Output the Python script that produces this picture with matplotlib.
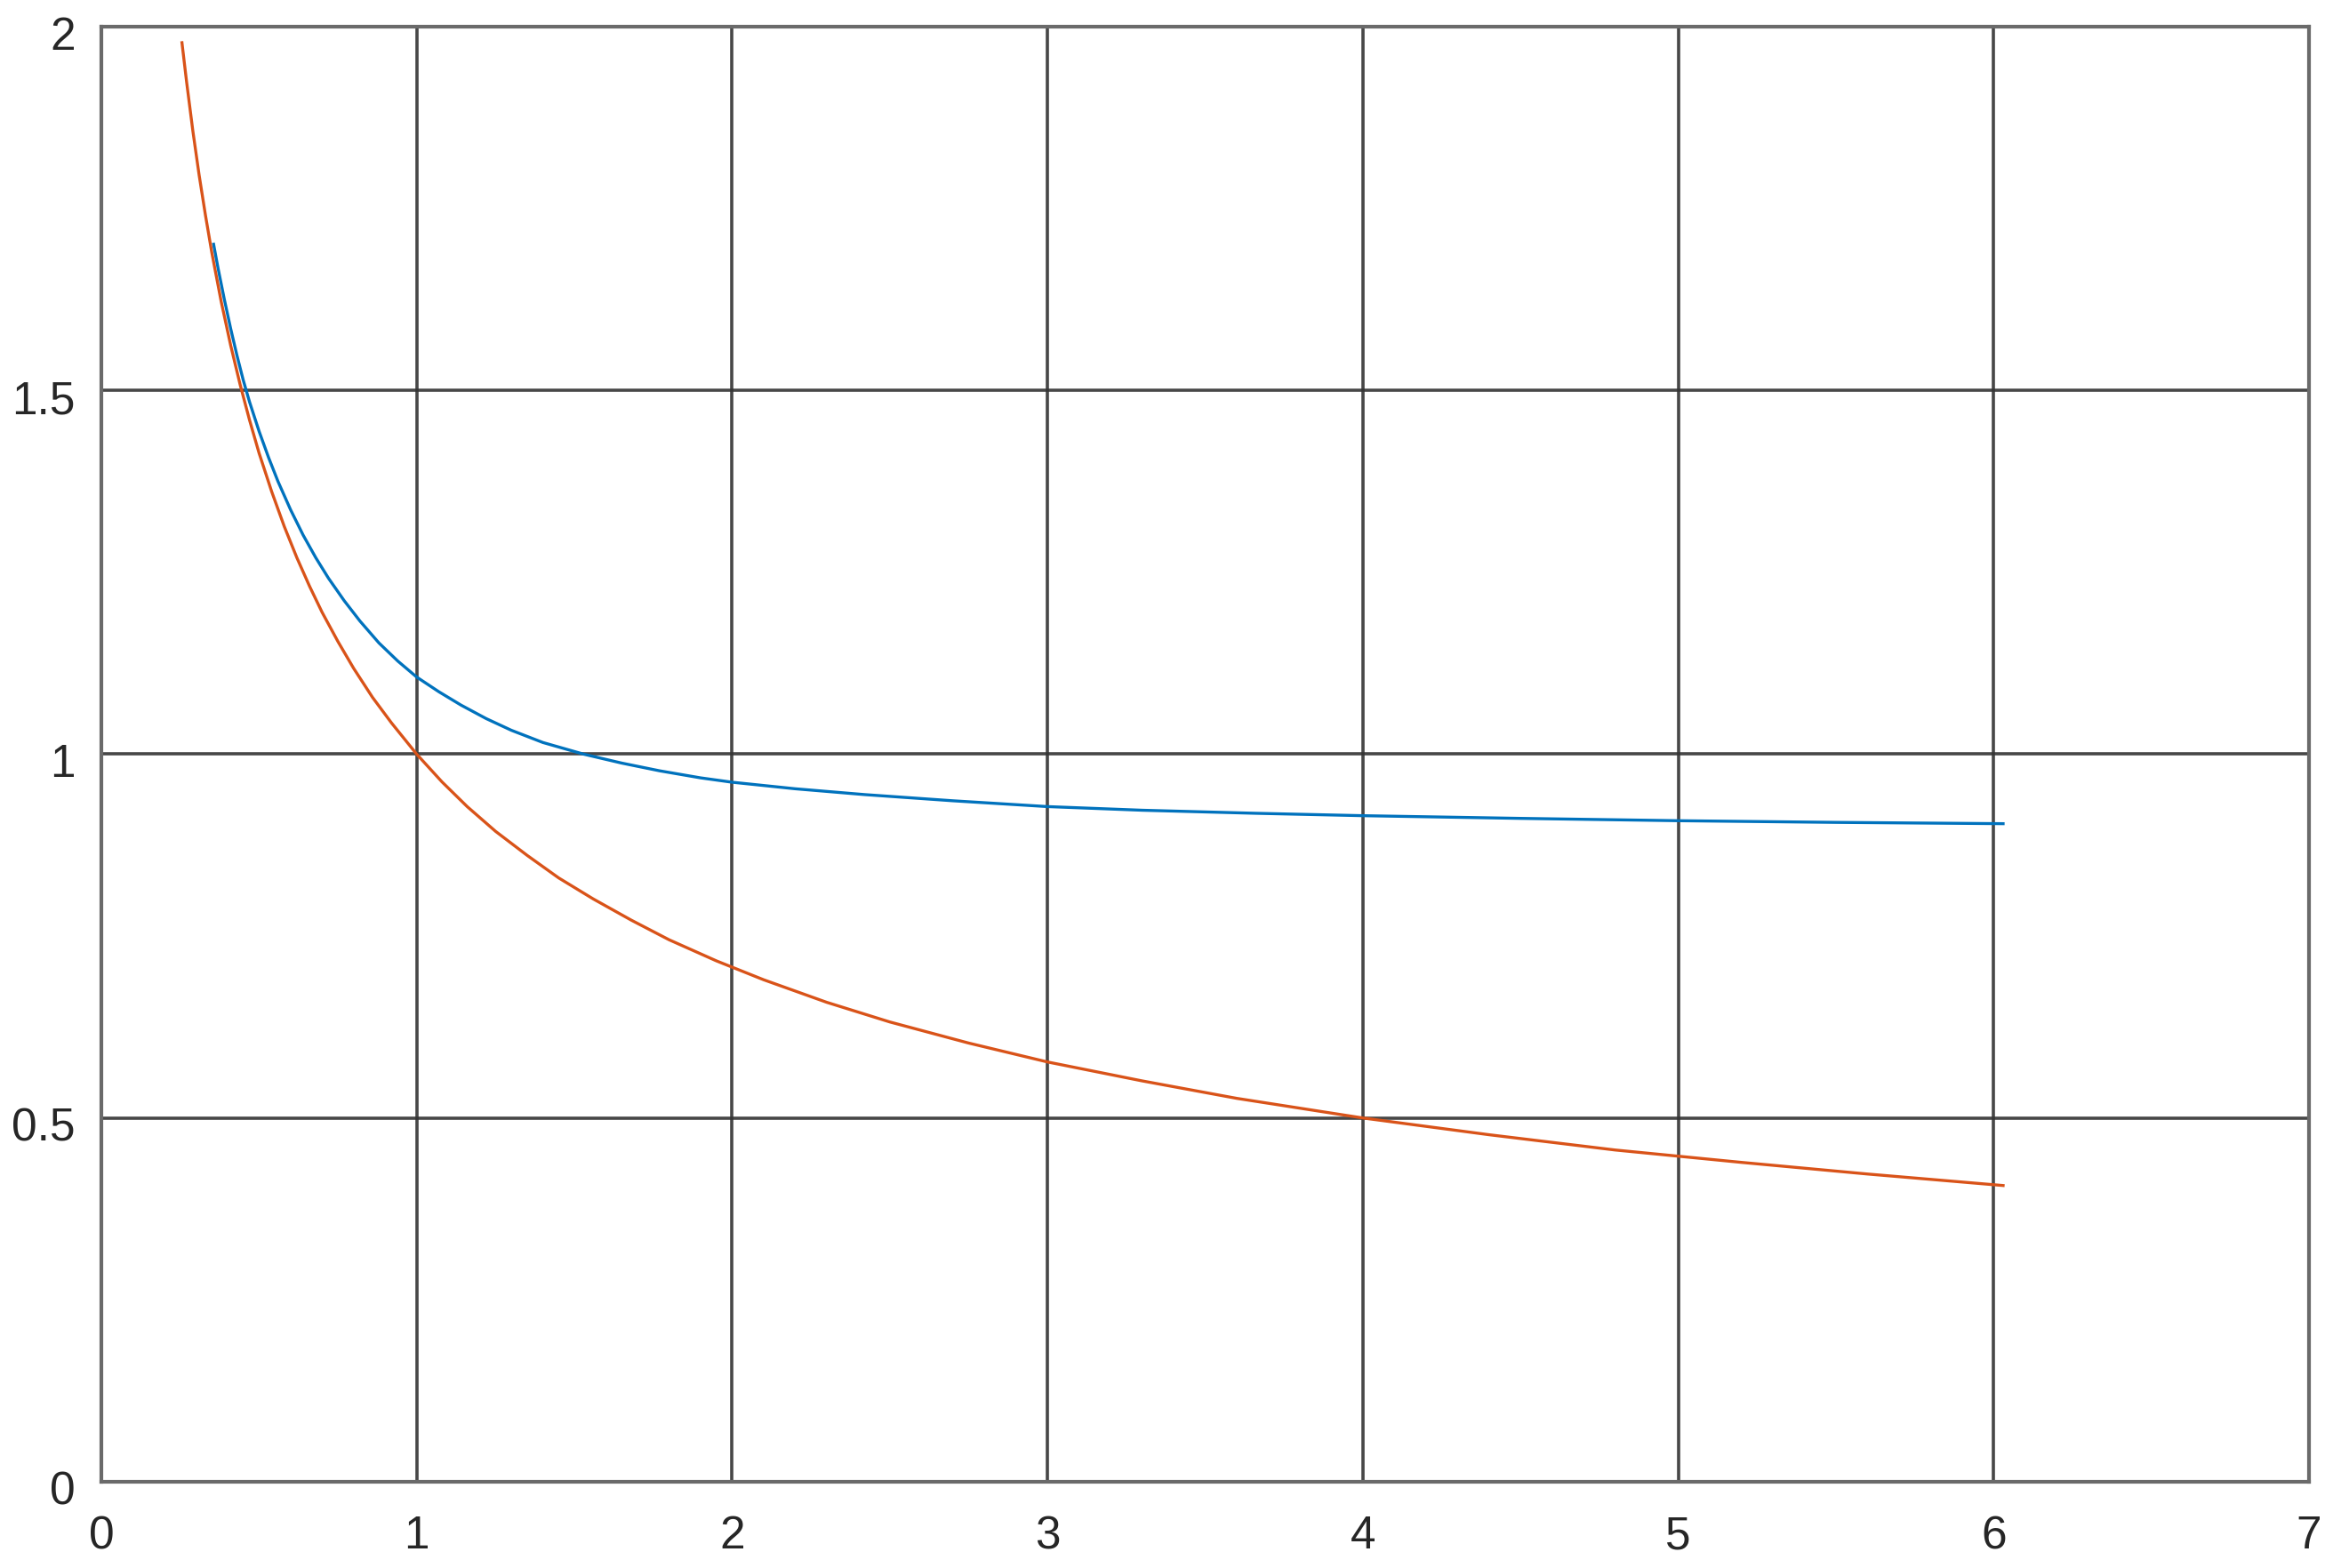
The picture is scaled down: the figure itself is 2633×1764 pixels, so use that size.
import matplotlib
matplotlib.use("Agg")
import matplotlib.pyplot as plt
from matplotlib.transforms import ScaledTranslation

# Values
orange_x = [0.255, 0.27, 0.29, 0.31, 0.33, 0.35, 0.38, 0.41, 0.44, 0.47, 0.50, 0.54, 0.58,
            0.62, 0.66, 0.70, 0.75, 0.80, 0.86, 0.92, 1.00, 1.08, 1.16, 1.25, 1.35, 1.45,
            1.56, 1.68, 1.80, 1.95, 2.10, 2.30, 2.50, 2.75, 3.00, 3.30, 3.60, 4.00, 4.40,
            4.80, 5.20, 5.60, 6.035]
orange_y = [1.98, 1.925, 1.857, 1.796, 1.741, 1.690, 1.622, 1.562, 1.508, 1.459, 1.414,
            1.361, 1.313, 1.270, 1.231, 1.195, 1.155, 1.118, 1.078, 1.043, 1.000, 0.962,
            0.928, 0.894, 0.861, 0.830, 0.801, 0.772, 0.745, 0.716, 0.690, 0.659, 0.632,
            0.603, 0.577, 0.551, 0.527, 0.500, 0.477, 0.456, 0.439, 0.423, 0.407]

blue_x = [0.355, 0.37, 0.39, 0.41, 0.43, 0.45, 0.47, 0.50, 0.53, 0.56, 0.60, 0.64, 0.68,
          0.72, 0.77, 0.82, 0.88, 0.94, 1.00, 1.07, 1.14, 1.22, 1.30, 1.40, 1.53, 1.65,
          1.77, 1.90, 2.00, 2.20, 2.42, 2.70, 3.00, 3.30, 3.66, 4.00, 4.50, 5.00, 5.50,
          6.035]
blue_y = [1.703, 1.668, 1.625, 1.585, 1.548, 1.514, 1.484, 1.444, 1.408, 1.375, 1.336,
          1.301, 1.270, 1.242, 1.211, 1.183, 1.153, 1.128, 1.106, 1.0859, 1.0676, 1.0490,
          1.0329, 1.0161, 1.000, 0.9878, 0.9772, 0.9675, 0.9615, 0.9525, 0.9445, 0.9360,
          0.9280, 0.9230, 0.9188, 0.9155, 0.9118, 0.9086, 0.9063, 0.9045]

x_ticks = [0, 1, 2, 3, 4, 5, 6, 7]
y_ticks = [0, 0.5, 1, 1.5, 2]
y_tick_labels = ["0", "0.5", "1", "1.5", "2"]

plt.rcParams['font.family'] = ['Liberation Sans', 'DejaVu Sans']

fig = plt.figure(figsize=(26.33, 17.64), dpi=100)
ax = fig.add_axes([0.0433, 0.055, 0.943, 0.928])

ax.plot(blue_x, blue_y, color='#0072BD', lw=2.4, solid_capstyle='butt', zorder=3)
ax.plot(orange_x, orange_y, color='#D95319', lw=2.4, solid_capstyle='butt', zorder=3)

ax.set_xlim(0, 7)
ax.set_ylim(0, 2)
ax.set_xticks(x_ticks)
ax.set_xticklabels([str(t) for t in x_ticks])
ax.set_yticks(y_ticks)
ax.set_yticklabels(y_tick_labels)

ax.grid(True, color='#333333', lw=2.6, alpha=0.9)
ax.set_axisbelow(True)
for s in ax.spines.values():
    s.set_color('#6a6a6a')
    s.set_linewidth(3.0)

ax.tick_params(axis='both', length=0, labelsize=37, labelcolor='#262626')
ax.tick_params(axis='x', pad=27)
ax.tick_params(axis='y', pad=21)

off = ScaledTranslation(0, -5 / 72, fig.dpi_scale_trans)
for lbl in ax.get_yticklabels():
    lbl.set_transform(lbl.get_transform() + off)

fig.savefig("out.png", dpi=100, facecolor='white')
